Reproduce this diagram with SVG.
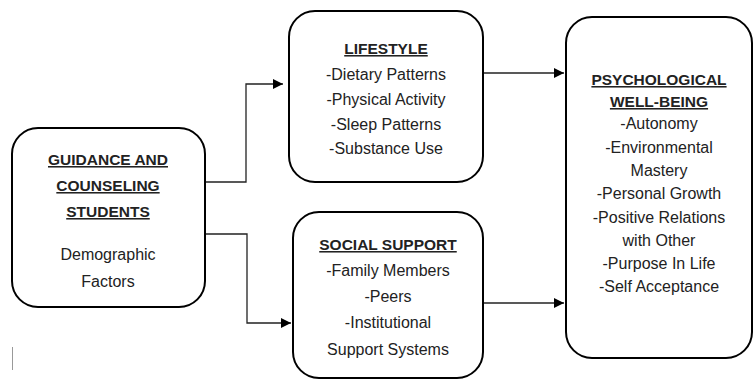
<svg xmlns="http://www.w3.org/2000/svg" width="754" height="380" viewBox="0 0 754 380">
<style>
.box{fill:#fff;stroke:#000;stroke-width:2}
.t{font-family:"Liberation Sans","Open Sans",sans-serif;font-size:16px;fill:#222;text-anchor:middle}
.h{font-weight:bold;text-decoration:underline;font-size:15.5px}
.c{fill:none;stroke:#222;stroke-width:1.3}
</style>
<defs>
<marker id="ah" viewBox="0 0 10 10" refX="10" refY="5" markerWidth="10" markerHeight="10" markerUnits="userSpaceOnUse" orient="auto">
<path d="M0,0 L10,5 L0,10 z" fill="#000"/>
</marker>
</defs>
<rect width="754" height="380" fill="#fff"/>
<g id="connectors">
<path class="c" d="M205,182 H246 V84 H283" marker-end="url(#ah)"/>
<path class="c" d="M205,234 H247 V323 H291" marker-end="url(#ah)"/>
<path class="c" d="M483,73 H564" marker-end="url(#ah)"/>
<path class="c" d="M483,303 H564" marker-end="url(#ah)"/>
<line x1="12.5" y1="347" x2="12.5" y2="370" stroke="#999" stroke-width="1"/>
</g>
<g id="guidance">
<rect class="box" x="12" y="128" width="193" height="179" rx="26"/>
<text class="t h" x="108" y="165">GUIDANCE AND</text>
<text class="t h" x="108" y="191">COUNSELING</text>
<text class="t h" x="108" y="217">STUDENTS</text>
<text class="t" x="108" y="260">Demographic</text>
<text class="t" x="108" y="287">Factors</text>
</g>
<g id="lifestyle">
<rect class="box" x="289" y="11" width="194" height="171" rx="26"/>
<text class="t h" x="386" y="54">LIFESTYLE</text>
<text class="t" x="386" y="80">-Dietary Patterns</text>
<text class="t" x="386" y="105">-Physical Activity</text>
<text class="t" x="386" y="130">-Sleep Patterns</text>
<text class="t" x="386" y="154">-Substance Use</text>
</g>
<g id="social">
<rect class="box" x="293" y="212" width="190" height="166" rx="26"/>
<text class="t h" x="388" y="250">SOCIAL SUPPORT</text>
<text class="t" x="388" y="276">-Family Members</text>
<text class="t" x="388" y="302">-Peers</text>
<text class="t" x="388" y="328">-Institutional</text>
<text class="t" x="388" y="355">Support Systems</text>
</g>
<g id="wellbeing">
<rect class="box" x="566" y="17" width="186" height="341" rx="26"/>
<text class="t h" x="659" y="85">PSYCHOLOGICAL</text>
<text class="t h" x="659" y="107">WELL-BEING</text>
<text class="t" x="659" y="129">-Autonomy</text>
<text class="t" x="659" y="153">-Environmental</text>
<text class="t" x="659" y="176">Mastery</text>
<text class="t" x="659" y="199">-Personal Growth</text>
<text class="t" x="659" y="223">-Positive Relations</text>
<text class="t" x="659" y="246">with Other</text>
<text class="t" x="659" y="269">-Purpose In Life</text>
<text class="t" x="659" y="292">-Self Acceptance</text>
</g>
</svg>
